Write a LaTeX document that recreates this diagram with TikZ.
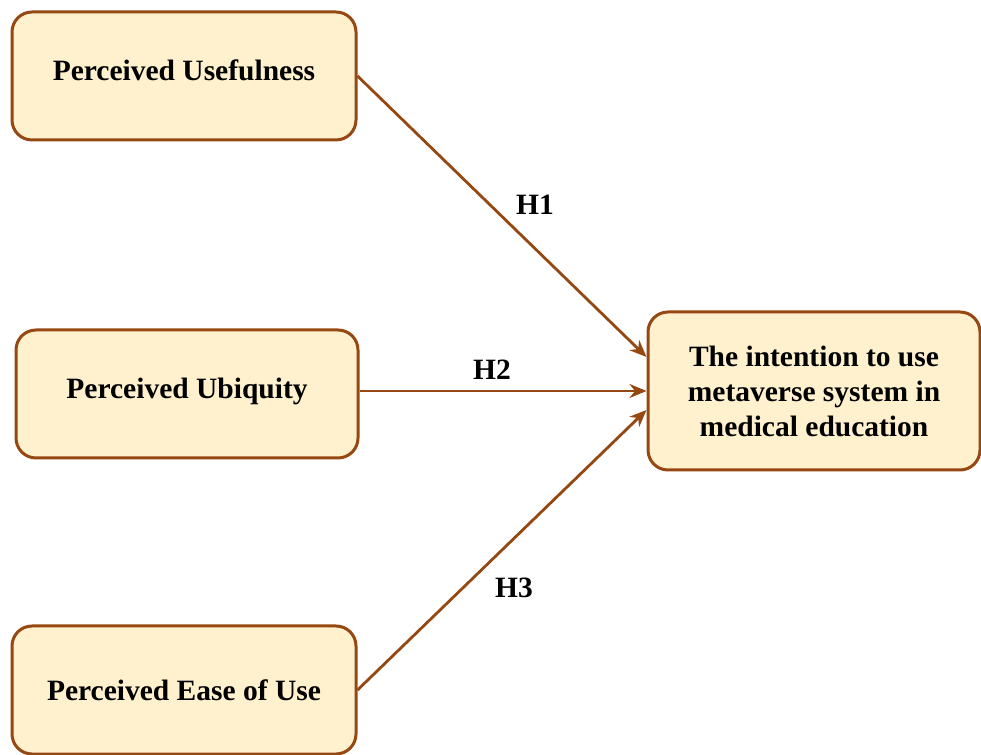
\documentclass[tikz,border=0pt]{standalone}
\usepackage{fontspec}
\setmainfont{Liberation Serif}
\usetikzlibrary{arrows.meta,calc}
\definecolor{boxline}{RGB}{150,72,18}
\definecolor{boxfill}{RGB}{255,241,205}

\tikzset{
	construct/.style={draw=boxline, fill=boxfill, line width=3pt, rounded corners=20pt,
		font=\fontsize{29.5}{35}\selectfont\bfseries, align=center, inner sep=0pt},
	path/.style={draw=boxline, line width=2.8pt, -{Stealth[length=17pt,width=14pt]}},
	hyp/.style={font=\fontsize{29.5}{35}\selectfont\bfseries}
}

\begin{document}
\begin{tikzpicture}[x=1pt,y=1pt]
		\useasboundingbox (0,0) rectangle (981,754);

		% Predictors
		\node[construct, minimum width=344pt, minimum height=128pt] (useful) at (184,678) {\raisebox{12pt}{Perceived Usefulness}};
		\node[construct, minimum width=342pt, minimum height=128pt] (ubiq) at (187,360) {\raisebox{12pt}{Perceived Ubiquity}};
		\node[construct, minimum width=344pt, minimum height=128pt] (ease) at (184,64) {Perceived Ease of Use};

		% Outcome
		\node[construct, minimum width=332pt, minimum height=158pt] (intent) at (814,363) {The intention to use\\metaverse system in\\medical education};

		\coordinate (in1) at ($(intent.west)+(0,34)$);
		\coordinate (in3) at ($(intent.west)+(0,-19)$);

		\draw[path] (useful.east) -- (in1);
		\draw[path] (ubiq.east |- intent.west) -- (intent.west);
		\draw[path] (ease.east) -- (in3);

		\node[hyp] (h1) at (535,549) {H1};
		\node[hyp] (h2) at (492,384) {H2};
		\node[hyp] (h3) at (514,166) {H3};
	\end{tikzpicture}
\end{document}
